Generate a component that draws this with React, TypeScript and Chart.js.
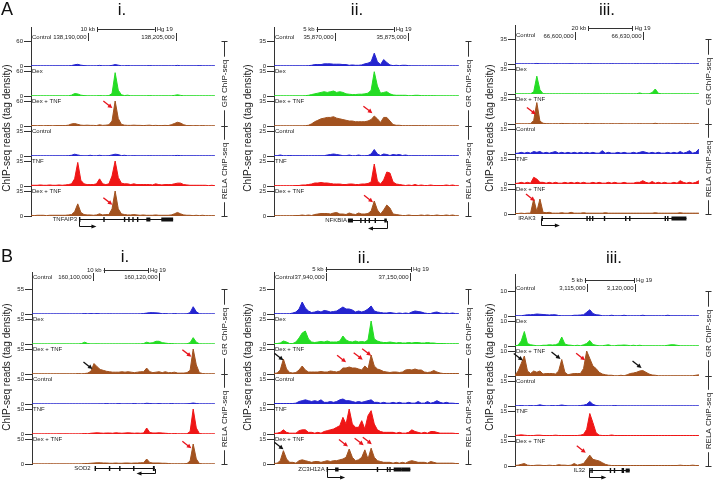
import React, { useEffect, useRef } from 'react';
import { Chart, registerables } from 'chart.js';

Chart.register(...registerables);

const FONT = 'Arial, "Liberation Sans", Helvetica, sans-serif';
Chart.defaults.font.family = FONT;

// ---------------- shared labels ----------------
const TRACK_NAMES = ['Control', 'Dex', 'Dex + TNF', 'Control', 'TNF', 'Dex + TNF'];
const GROUP_NAMES = ['GR ChIP-seq', 'RELA ChIP-seq'];
const Y_TITLE = 'ChIP-seq reads (tag density)';
const GENOME = 'Hg 19';

// ---------------- Panel A i : TNFAIP3 ----------------
const AI_TICKS = [60, 35];
const AI_GR_CONTROL = [
  0.5, 0.5, 0.5, 0.5, 0.5, 0.5, 0.5, 0.5, 0.5, 0.5,
  0.5, 0.5, 0.5, 1, 3, 4, 2, 1, 0.5, 0.5,
  0.5, 0.5, 1.5, 0.5, 0.5, 0.5, 1.5, 3.5, 2, 0.5,
  0.5, 1, 0.5, 0.5, 0.5, 0.5, 0.5, 0.5, 1, 0.5,
  0.5, 0.5, 0.5, 0.5, 0.5, 0.5, 0.5, 1.5, 0.5, 0.5,
  0.5, 0.5, 0.5, 0.5, 1, 0.5, 0.5, 0.5, 0.5, 0.5];
const AI_GR_DEX = [
  0.5, 0.5, 0.5, 0.5, 0.5, 0.5, 0.5, 0.5, 0.5, 0.5,
  0.5, 0.5, 0.5, 2, 6, 5, 2, 1, 0.5, 0.5,
  0.5, 0.5, 1, 0.5, 0.5, 1, 6, 56, 14, 3,
  1, 2, 0.5, 0.5, 0.5, 0.5, 0.5, 0.5, 1, 0.5,
  0.5, 0.5, 0.5, 0.5, 0.5, 0.5, 1.5, 3, 1.5, 0.5,
  0.5, 0.5, 0.5, 0.5, 0.5, 0.5, 0.5, 0.5, 0.5, 0.5];
const AI_GR_DEXTNF = [
  1, 1, 0.5, 1, 0.5, 1, 1, 0.5, 1, 1,
  1, 1, 2, 5, 6, 4, 2, 1.5, 2, 1.5,
  1.5, 1, 3, 1.5, 2, 3, 12, 60, 18, 4,
  2, 1.5, 1.5, 2, 1.5, 1.5, 1, 1.5, 2, 1,
  1.5, 1, 1, 1.5, 1, 3, 6, 9, 7, 3,
  1, 1, 0.5, 1, 0.5, 1, 0.5, 0.5, 0.5, 0.5];
const AI_RELA_CONTROL = [
  0.3, 0.3, 0.3, 0.3, 0.3, 0.3, 0.3, 0.3, 0.3, 0.3,
  0.3, 0.3, 0.5, 1, 2.5, 1.5, 0.5, 0.3, 0.3, 1,
  0.3, 0.3, 1, 0.3, 0.3, 0.5, 1.5, 2.5, 2, 0.5,
  1, 0.3, 0.3, 0.5, 0.3, 0.3, 0.3, 0.3, 0.5, 0.3,
  0.3, 0.3, 0.3, 0.3, 0.3, 0.3, 0.5, 0.8, 0.5, 0.3,
  0.3, 0.3, 0.3, 0.3, 0.3, 0.3, 0.3, 0.3, 0.3, 0.3];
const AI_RELA_TNF = [
  1, 1, 1, 1.5, 1, 1, 1.5, 1, 1, 1.5,
  1, 1.5, 2, 3, 10, 33, 8, 3, 2, 2,
  2, 3, 10, 3, 2, 3, 14, 35, 12, 4,
  3, 3, 2, 3, 2, 2, 2, 2, 2, 1.5,
  3, 2, 1.5, 2, 2, 2, 3, 4, 4, 2,
  1.5, 1, 1, 1, 1, 1, 1, 0.5, 1, 0.5];
const AI_RELA_DEXTNF = [
  1, 0.5, 1, 1, 1, 0.5, 1, 1, 1, 1,
  1, 1, 1.5, 2, 6, 17, 5, 2, 1.5, 1.5,
  1, 1.5, 3, 1.5, 2, 2, 10, 35, 10, 3,
  2, 1.5, 1.5, 2, 1.5, 1, 1.5, 1, 1, 1,
  1.5, 1, 1, 1, 1, 1.5, 3, 5, 3, 1.5,
  1, 1, 0.5, 1, 0.5, 1, 0.5, 0.5, 0.5, 0.5];
const AI_SCALE_LABEL = '10 kb';
const AI_SCALE_BINS = [21.2, 39.7];
const AI_COORD_LABELS = ['138,190,000', '138,205,000'];
const AI_COORD_BINS = [18.4, 46.4];
const AI_GENE = {
  name: 'TNFAIP3', from: 15.4, to: 45.6, strand: 1, tssTo: 21,
  exons: [[15.4, 15.7], [23.2, 23.5], [29.8, 30.1], [31.2, 31.5], [32.5, 32.8], [34.0, 34.3], [37.0, 38.3], [41.8, 45.6]],
};
const AI_ARROWS = [[2, 26.1, 43, 'red'], [5, 26.1, 15.8, 'red']];

// ---------------- Panel A ii : NFKBIA ----------------
const AII_TICKS = [35, 25];
const AII_GR_CONTROL = [
  0.3, 0.3, 0.3, 0.3, 0.3, 0.3, 0.3, 0.3, 0.3, 0.3,
  0.3, 0.5, 1, 2, 2, 2, 3, 3, 3, 2.5,
  2.5, 2.5, 2, 2, 1, 1.5, 1, 1, 1.5, 3,
  4, 6, 18, 6, 2, 9, 5, 1.5, 0.5, 1,
  0.5, 1, 1, 0.5, 0.3, 0.3, 0.3, 0.3, 0.3, 0.3,
  0.3, 0.3, 0.3, 0.3, 0.3, 0.3, 0.3, 0.3, 0.3, 0.3];
const AII_GR_DEX = [
  0.3, 0.3, 0.3, 0.3, 0.3, 0.3, 0.3, 0.3, 0.3, 0.3,
  0.5, 1, 2, 3, 4, 5, 6, 5, 6, 7,
  5, 6, 5, 3, 2.5, 2, 2, 2.5, 2.5, 3,
  4, 8, 34, 14, 4, 5, 6, 3, 1.5, 1,
  1, 1, 1, 0.5, 0.5, 1, 1, 0.5, 0.5, 0.5,
  0.5, 0.5, 0.3, 0.3, 0.3, 0.3, 0.3, 0.3, 0.3, 0.3];
const AII_GR_DEXTNF = [
  0.3, 0.3, 0.3, 0.3, 0.3, 0.3, 0.3, 0.3, 0.3, 0.3,
  0.5, 1, 3, 6, 8, 10, 11, 12, 12, 13,
  11, 10, 9, 8, 7, 7, 6, 6, 6, 6,
  7, 9, 14, 10, 5, 12, 12, 7, 2, 1,
  1, 0.5, 0.5, 0.5, 0.5, 0.5, 0.5, 0.5, 0.5, 0.5,
  0.3, 0.3, 0.3, 0.3, 0.3, 0.3, 0.3, 0.3, 0.3, 0.3];
const AII_RELA_CONTROL = [
  0.3, 0.3, 1, 0.3, 0.3, 0.5, 0.3, 0.3, 0.3, 0.3,
  0.3, 0.3, 0.3, 0.3, 0.3, 0.3, 0.3, 1, 1.5, 2,
  1.5, 1, 0.3, 0.3, 1, 0.3, 0.3, 1, 0.3, 0.3,
  0.5, 2, 6.5, 2, 0.5, 2, 1.5, 0.5, 1.5, 1,
  1.5, 0.5, 1, 0.3, 0.3, 0.3, 0.3, 0.3, 0.3, 0.3,
  0.3, 0.3, 0.3, 0.3, 0.3, 0.3, 0.3, 0.3, 0.3, 0.3];
const AII_RELA_TNF = [
  0.3, 0.3, 0.3, 0.3, 0.3, 0.3, 0.3, 0.5, 0.5, 1,
  1, 1.5, 2, 3, 3, 3.5, 3, 3, 2.5, 2,
  2, 2, 1.5, 1.5, 2, 2, 1.5, 1.5, 2, 2,
  2.5, 4, 22, 5, 2, 6, 14, 13, 4, 2,
  1.5, 1, 0.5, 1, 0.5, 1.5, 0.5, 1, 0.5, 0.5,
  1, 0.5, 0.5, 0.5, 0.5, 1, 0.5, 1, 0.3, 0.3];
const AII_RELA_DEXTNF = [
  0.3, 0.3, 0.3, 0.3, 0.3, 0.3, 0.3, 0.5, 0.5, 1,
  0.5, 1, 0.5, 1.5, 2, 2.5, 2.5, 2.5, 2, 3,
  3.5, 2, 2, 1.5, 3, 2, 1.5, 3, 2, 2,
  2.5, 5, 15, 6, 2, 6, 11, 8, 2, 1.5,
  1, 0.5, 0.5, 1, 0.5, 0.5, 0.5, 1, 0.5, 1,
  0.5, 0.5, 1, 0.5, 0.5, 1, 0.5, 1, 0.3, 0.3];
const AII_SCALE_LABEL = '5 kb';
const AII_SCALE_BINS = [13.6, 38.2];
const AII_COORD_LABELS = ['35,870,000', '35,875,000'];
const AII_COORD_BINS = [19.5, 42.8];
const AII_GENE = {
  name: 'NFKBIA', from: 23.6, to: 36.0, strand: -1, tssTo: 30.0,
  exons: [[23.6, 25.2], [27.5, 27.8], [28.9, 29.2], [30.2, 30.5], [32.1, 32.4], [35.2, 36.0]],
};
const AII_ARROWS = [[2, 31.4, 18, 'red'], [5, 31.6, 13.7, 'red']];

// ---------------- Panel A iii : IRAK3 ----------------
const AIII_TICKS = [35, 15];
const AIII_GR_CONTROL = [
  0.3, 0.3, 0.3, 0.3, 0.3, 0.3, 0.3, 0.8, 0.3, 0.3,
  0.3, 0.3, 0.3, 0.5, 0.3, 0.3, 0.3, 0.3, 0.5, 0.3,
  0.3, 0.3, 0.3, 0.3, 0.5, 0.3, 0.3, 0.3, 0.3, 0.3,
  0.3, 0.5, 0.3, 0.3, 0.3, 0.3, 0.3, 0.3, 0.3, 0.5,
  0.3, 0.3, 0.3, 0.3, 0.3, 0.5, 0.3, 0.3, 0.3, 0.3,
  0.3, 0.3, 0.5, 0.3, 0.3, 0.3, 0.3, 0.3, 0.3, 0.5];
const AIII_GR_DEX = [
  0.3, 0.3, 0.3, 0.3, 0.3, 0.3, 3, 25, 6, 0.5,
  0.3, 0.3, 0.3, 0.3, 0.3, 0.3, 0.3, 0.3, 0.3, 0.3,
  0.3, 0.3, 0.3, 0.3, 0.3, 0.3, 0.3, 0.3, 0.3, 0.3,
  0.3, 0.3, 0.3, 0.3, 0.3, 0.3, 0.3, 0.3, 0.3, 0.3,
  1.5, 0.3, 0.3, 0.3, 2, 7, 1, 0.3, 0.3, 0.3,
  0.3, 0.3, 0.3, 0.3, 0.3, 0.3, 0.3, 0.3, 0.3, 0.3];
const AIII_GR_DEXTNF = [
  0.3, 0.3, 0.3, 0.3, 0.3, 0.5, 5, 30, 4, 1,
  0.5, 0.5, 0.3, 0.5, 0.3, 0.8, 0.5, 0.5, 0.3, 0.5,
  0.3, 0.5, 0.3, 0.8, 0.3, 0.5, 0.3, 0.3, 0.5, 0.3,
  0.3, 0.5, 0.3, 0.3, 0.5, 0.3, 0.3, 0.3, 0.3, 0.3,
  0.5, 0.3, 0.3, 0.3, 0.3, 1, 0.3, 0.3, 0.3, 0.3,
  0.3, 0.3, 0.3, 0.3, 0.3, 0.5, 0.3, 0.3, 0.3, 0.3];
const AIII_RELA_CONTROL = [
  0.3, 0.5, 1, 0.5, 1, 0.5, 1.5, 1, 1.5, 0.5,
  1, 0.5, 1, 1.5, 0.5, 1, 0.5, 1, 0.5, 1,
  0.5, 1, 0.5, 1, 0.5, 1, 0.5, 0.5, 2, 0.5,
  1, 0.5, 0.5, 1, 0.5, 1, 0.5, 0.5, 1, 0.5,
  1, 1.5, 1, 0.5, 1, 0.5, 1, 0.5, 0.5, 1,
  0.5, 1, 0.5, 1.5, 0.5, 1, 2, 0.5, 1, 3];
const AIII_RELA_TNF = [
  0.3, 0.5, 1, 0.5, 1, 0.5, 4, 3, 1, 1,
  0.5, 1, 0.5, 1, 0.5, 0.5, 1, 0.5, 1, 0.5,
  1, 0.5, 1, 0.5, 0.5, 1, 0.5, 1, 0.5, 0.5,
  1, 0.5, 1, 0.5, 0.5, 1, 0.5, 0.5, 0.5, 1,
  1, 2, 1, 0.5, 1.5, 0.5, 1, 0.5, 1, 0.5,
  0.5, 1, 0.5, 2, 1, 0.5, 1, 0.5, 1, 2];
const AIII_RELA_DEXTNF = [
  0.3, 0.3, 0.5, 0.3, 0.5, 0.5, 9, 1.5, 9, 1,
  0.8, 1, 0.5, 0.5, 0.5, 0.8, 0.5, 0.5, 1, 0.5,
  0.5, 0.5, 0.8, 0.5, 0.5, 0.5, 0.5, 0.5, 0.5, 0.8,
  0.5, 0.5, 0.5, 0.5, 0.5, 0.5, 0.5, 0.5, 0.5, 0.5,
  0.5, 0.5, 0.5, 0.5, 0.5, 0.8, 0.5, 0.5, 0.5, 0.5,
  0.5, 0.5, 0.5, 0.8, 0.5, 0.5, 0.5, 0.5, 0.5, 0.5];
const AIII_SCALE_LABEL = '20 kb';
const AIII_SCALE_BINS = [23.5, 37.7];
const AIII_COORD_LABELS = ['66,600,000', '66,630,000'];
const AIII_COORD_BINS = [19.2, 41.1];
const AIII_GENE = {
  name: 'IRAK3', from: 8.5, to: 55.0, strand: 1, tssTo: 14.4,
  exons: [[8.5, 8.8], [22.9, 23.1], [23.8, 24.0], [24.7, 24.9], [28.5, 28.7], [35.3, 35.5], [36.6, 36.8], [48.0, 48.2], [48.8, 49.0], [50.2, 55.0]],
};
const AIII_ARROWS = [[2, 6.7, 13.4, 'red'], [5, 6.4, 7.8, 'red']];

// ---------------- Panel B i : SOD2 ----------------
const BI_TICKS = [55, 50];
const BI_GR_CONTROL = [
  0.3, 0.3, 0.3, 0.3, 0.3, 0.3, 0.3, 0.3, 0.3, 0.3,
  0.3, 0.3, 0.3, 0.3, 0.3, 0.3, 0.3, 1, 0.3, 1,
  0.3, 1, 0.3, 0.3, 0.3, 0.5, 0.3, 0.3, 0.3, 0.3,
  0.3, 0.3, 0.3, 0.3, 0.3, 0.5, 1, 2, 3, 3,
  2.5, 2, 0.5, 1, 0.3, 0.3, 1, 0.3, 0.3, 0.3,
  0.5, 3, 16, 5, 0.5, 0.3, 0.3, 0.3, 0.3, 0.3];
const BI_GR_DEX = [
  0.3, 0.3, 0.3, 0.3, 0.3, 0.3, 0.3, 0.3, 0.3, 0.3,
  0.3, 0.3, 0.3, 0.3, 0.3, 0.3, 1, 4, 1, 0.3,
  0.3, 0.5, 0.3, 0.3, 0.3, 0.3, 0.3, 0.3, 0.3, 0.3,
  0.3, 0.3, 0.3, 0.3, 0.5, 0.3, 1, 4, 2, 3,
  6, 6, 3, 2, 1, 1, 0.5, 0.3, 0.3, 0.3,
  0.5, 3, 14, 4, 0.5, 0.3, 0.3, 0.3, 0.3, 0.3];
const BI_GR_DEXTNF = [
  0.5, 0.5, 0.5, 0.5, 0.5, 0.5, 0.5, 0.5, 0.5, 0.5,
  0.5, 0.5, 0.5, 0.5, 0.5, 1, 0.5, 1, 2, 6,
  23, 16, 10, 8, 6, 5, 4, 4, 4, 5,
  4, 5, 4, 3, 4, 5, 5, 13, 5, 3,
  4, 5, 3, 5, 3, 3, 4, 2, 2, 2,
  3, 8, 55, 20, 3, 1, 0.5, 0.5, 0.5, 0.5];
const BI_RELA_CONTROL = [
  0.3, 0.3, 0.3, 0.3, 0.3, 0.3, 0.3, 0.3, 0.3, 0.3,
  0.3, 0.3, 0.3, 0.3, 0.3, 0.3, 0.3, 0.3, 0.3, 0.3,
  0.3, 0.3, 0.5, 0.3, 1, 0.3, 0.5, 0.3, 1, 0.3,
  0.3, 0.5, 0.3, 1, 0.3, 0.3, 0.5, 1.5, 1, 0.5,
  0.3, 1, 0.3, 0.5, 0.3, 1, 0.3, 0.5, 0.3, 0.3,
  0.5, 1, 2, 1, 0.3, 0.3, 0.3, 0.3, 0.3, 0.3];
const BI_RELA_TNF = [
  0.3, 0.3, 0.3, 0.3, 0.3, 0.5, 0.3, 0.3, 0.3, 0.5,
  0.3, 0.5, 0.3, 0.3, 0.3, 0.3, 0.5, 1, 0.5, 1.5,
  2, 2.5, 2, 1.5, 2, 2, 1.5, 2.5, 2, 1.5,
  2, 2.5, 2, 1.5, 2, 1.5, 2, 12, 3, 2,
  2, 2.5, 2, 1.5, 1, 0.5, 1, 0.5, 0.5, 0.5,
  0.5, 5, 50, 12, 1, 0.3, 0.3, 0.3, 0.3, 0.3];
const BI_RELA_DEXTNF = [
  0.3, 0.3, 0.3, 0.3, 0.3, 0.3, 0.5, 0.3, 0.3, 0.3,
  0.3, 0.3, 0.3, 0.3, 0.3, 0.3, 0.3, 1, 1, 1.5,
  2, 2.5, 2.5, 2, 2, 1.5, 1.5, 2, 1.5, 1.5,
  2, 2, 1.5, 2, 2, 2.5, 2.5, 10, 3, 2,
  2, 2, 1.5, 1.5, 1, 0.5, 0.5, 0.5, 0.5, 0.5,
  1, 6, 40, 10, 1, 0.3, 0.3, 0.3, 0.3, 0.3];
const BI_SCALE_LABEL = '10 kb';
const BI_SCALE_BINS = [23.1, 37.4];
const BI_COORD_LABELS = ['160,100,000', '160,120,000'];
const BI_COORD_BINS = [19.7, 41.0];
const BI_GENE = {
  name: 'SOD2', from: 20.2, to: 39.6, strand: -1, tssTo: 33.7,
  exons: [[20.2, 20.5], [24.8, 25.1], [28.1, 28.4], [32.6, 32.9], [39.0, 39.6]],
};
const BI_ARROWS = [[2, 19.5, 11, 'black'], [2, 51.4, 38, 'red'], [5, 51.4, 31.5, 'red']];

// ---------------- Panel B ii : ZC3H12A ----------------
const BII_TICKS = [25, 15];
const BII_GR_CONTROL = [
  0.3, 0.3, 0.3, 0.3, 0.3, 0.3, 1, 2, 5, 12,
  6, 3, 1.5, 2, 3, 2, 3.5, 3, 2, 2.5,
  3, 5, 7, 5, 5, 4, 2, 3, 2, 3,
  5, 8, 3, 2, 1.5, 1, 1, 1.5, 1, 0.5,
  1, 0.5, 1, 0.5, 2, 3, 2.5, 2, 1, 0.5,
  0.5, 1.5, 2, 1, 0.5, 1, 0.5, 1, 0.3, 0.3];
const BII_GR_DEX = [
  0.3, 0.5, 1, 3, 2, 0.5, 0.5, 2, 6, 11,
  13, 5, 2, 1.5, 2, 2.5, 2, 3, 2, 2,
  2, 3, 8, 4, 2.5, 2, 3, 2, 2.5, 2,
  4, 23, 5, 3, 2, 1.5, 1.5, 2, 1.5, 1,
  1.5, 1, 1, 1.5, 1, 1.5, 1.5, 1, 1, 1.5,
  1, 1, 0.5, 0.5, 0.5, 0.3, 0.3, 0.3, 0.3, 0.3];
const BII_GR_DEXTNF = [
  0.5, 1, 4, 15, 5, 1.5, 1, 1.5, 4, 8,
  4, 2, 2, 2, 2, 2.5, 2, 2, 3, 2.5,
  2, 3, 6, 6, 7, 6, 6, 5, 4, 8,
  5, 19, 8, 5, 4, 2.5, 2, 1.5, 2, 2,
  1.5, 2, 4, 4.5, 4, 5, 4, 4, 2, 1.5,
  2, 3.5, 2, 1, 0.5, 0.5, 0.5, 0.5, 0.5, 0.5];
const BII_RELA_CONTROL = [
  0.3, 0.3, 0.3, 0.3, 0.3, 0.3, 0.3, 0.5, 1.5, 2,
  2.5, 2, 1.5, 2, 1.5, 2.5, 1, 1, 1.5, 1,
  1.5, 2.5, 3, 2, 2, 1.5, 1, 1.5, 1, 1.5,
  2, 2.5, 1, 1, 0.5, 1, 0.5, 0.5, 1, 0.5,
  1, 0.5, 0.5, 1, 0.5, 0.5, 1.5, 0.5, 0.5, 1.5,
  0.5, 1, 2, 1, 0.5, 1, 0.5, 0.5, 0.3, 0.3];
const BII_RELA_TNF = [
  0.3, 0.5, 1, 2.5, 1, 0.5, 0.5, 0.5, 2, 2.5,
  2.5, 1, 1, 0.5, 1, 0.5, 1.5, 2, 2.5, 3,
  4, 5, 10, 6, 15, 6, 4, 4, 8, 3,
  11, 14, 6, 2.5, 1.5, 1, 1, 1, 1, 0.5,
  1, 0.5, 0.5, 1, 2.5, 1.5, 1, 0.5, 1, 0.5,
  1.5, 1.5, 1, 0.5, 0.5, 0.5, 0.5, 0.5, 0.3, 0.3];
const BII_RELA_DEXTNF = [
  0.3, 0.5, 2, 8, 3, 1, 1, 0.5, 2, 2.5,
  2, 1.5, 1, 1.5, 1.5, 1, 1.5, 2, 1.5, 2,
  2, 2.5, 3, 4, 9, 4, 2, 2.5, 4, 8.5,
  3, 9.5, 4, 2, 1.5, 1, 1, 1, 0.5, 1,
  0.5, 1, 0.5, 1.5, 2, 1.5, 1, 1, 1, 0.5,
  1.5, 1, 0.5, 0.5, 0.5, 0.5, 0.5, 0.5, 0.3, 0.3];
const BII_SCALE_LABEL = '5 kb';
const BII_SCALE_BINS = [16.5, 43.7];
const BII_COORD_LABELS = ['37,940,000', '37,150,000'];
const BII_COORD_BINS = [16.5, 43.3];
const BII_GENE = {
  name: 'ZC3H12A', from: 16.8, to: 43.5, strand: 1, tssTo: 22.7,
  exons: [[16.8, 17.0], [19.5, 20.6], [32.8, 33.1], [36.0, 36.3], [36.8, 37.1], [38.2, 40.8], [40.8, 43.5]],
};
const BII_ARROWS = [
  [2, 3.0, 13.7, 'black'], [2, 23, 11.7, 'red'], [2, 28.3, 14.3, 'red'], [2, 31, 18.3, 'red'],
  [5, 3.0, 8.8, 'black'], [5, 23.6, 10.5, 'red'], [5, 28.6, 11.3, 'red'], [5, 31.2, 11.9, 'red']];

// ---------------- Panel B iii : IL32 ----------------
const BIII_TICKS = [10, 15];
const BIII_GR_CONTROL = [
  0.1, 0.1, 0.1, 0.3, 0.5, 0.5, 0.6, 0.8, 0.7, 0.6,
  0.5, 0.4, 0.5, 0.5, 0.2, 0.1, 0.1, 0.1, 0.1, 0.3,
  0.3, 0.4, 0.5, 1.5, 2.5, 1, 0.5, 0.4, 0.1, 0.1,
  0.1, 0.3, 0.1, 0.1, 0.1, 0.3, 0.1, 0.1, 0.1, 0.1,
  0.1, 0.3, 0.1, 0.1, 0.1, 0.1, 0.1, 0.1, 0.1, 0.3,
  0.1, 0.1, 0.1, 0.1, 0.1, 0.1, 0.1, 0.1, 0.1, 0.1];
const BIII_GR_DEX = [
  0.1, 0.3, 2, 5.8, 1, 0.5, 0.3, 0.1, 0.1, 0.3,
  0.3, 0.5, 0.4, 0.5, 1, 3.6, 0.8, 0.4, 0.3, 0.1,
  0.3, 0.1, 0.5, 1, 2.2, 0.6, 0.3, 0.1, 0.1, 0.3,
  0.5, 0.1, 0.1, 0.3, 0.3, 0.4, 0.3, 0.1, 0.3, 0.1,
  0.3, 0.1, 0.1, 0.1, 0.1, 0.1, 0.1, 0.1, 0.1, 0.3,
  0.5, 0.5, 0.3, 0.1, 0.1, 0.1, 0.1, 0.1, 0.1, 0.1];
const BIII_GR_DEXTNF = [
  0.3, 2, 5, 8, 2, 1, 2, 1.5, 2, 0.8,
  1, 1, 1, 0.8, 2, 6.6, 1.5, 0.5, 0.8, 1,
  1, 1, 3, 10, 7, 4, 3, 1.5, 0.8, 0.5,
  0.3, 0.3, 0.1, 0.1, 0.3, 0.1, 0.5, 1, 1.2, 1.5,
  2, 2.2, 1.5, 0.8, 0.4, 0.3, 0.1, 0.1, 0.1, 0.1,
  0.1, 0.1, 0.1, 0.1, 0.1, 0.1, 0.1, 0.1, 0.3, 0.5];
const BIII_RELA_CONTROL = [
  0.1, 0.1, 0.3, 0.1, 0.1, 0.3, 0.1, 0.3, 0.7, 0.3,
  0.1, 0.1, 0.3, 0.1, 0.3, 0.6, 0.3, 0.1, 0.1, 0.1,
  0.1, 0.3, 0.5, 1, 2.7, 1, 0.3, 0.1, 0.1, 0.1,
  0.1, 0.1, 0.3, 0.1, 0.1, 0.1, 0.1, 0.1, 0.1, 0.1,
  0.1, 0.1, 0.1, 0.1, 0.1, 0.1, 0.1, 0.1, 0.1, 0.1,
  0.1, 0.1, 0.1, 0.1, 0.1, 0.1, 0.1, 0.1, 0.1, 0.1];
const BIII_RELA_TNF = [
  0.3, 0.5, 0.7, 0.5, 0.3, 0.3, 0.3, 0.5, 0.5, 0.3,
  0.3, 0.3, 0.3, 0.5, 0.3, 0.3, 0.3, 0.3, 0.3, 0.3,
  0.3, 0.5, 1, 4, 13.5, 8, 2, 0.5, 0.3, 0.3,
  0.3, 0.6, 0.3, 0.3, 0.3, 0.3, 0.3, 0.3, 0.3, 0.3,
  0.3, 0.3, 0.3, 0.3, 0.3, 0.3, 0.3, 0.3, 0.3, 0.3,
  0.3, 0.3, 0.3, 0.3, 0.3, 0.3, 0.3, 0.3, 0.3, 0.3];
const BIII_RELA_DEXTNF = [
  0.3, 0.5, 1, 1.5, 0.5, 0.3, 0.3, 0.5, 0.5, 0.3,
  0.3, 0.5, 0.3, 0.3, 0.8, 0.5, 0.5, 0.3, 0.5, 1.5,
  0.5, 1, 1.5, 4, 6.5, 4, 3.5, 3, 2, 1,
  0.5, 0.3, 0.3, 0.3, 0.3, 0.3, 0.3, 0.3, 0.3, 0.3,
  0.3, 0.3, 0.3, 0.3, 0.3, 0.3, 0.3, 0.3, 0.3, 0.3,
  0.3, 0.3, 0.3, 0.5, 0.3, 0.3, 0.3, 0.5, 0.3, 0.3];
const BIII_SCALE_LABEL = '5 kb';
const BIII_SCALE_BINS = [22.4, 38.2];
const BIII_COORD_LABELS = ['3,115,000', '3,120,000'];
const BIII_COORD_BINS = [23.2, 38.4];
const BIII_GENE = {
  name: 'IL32', from: 23.8, to: 36.8, strand: 1, tssTo: 29.3,
  exons: [[23.8, 24.0], [24.5, 24.7], [30.4, 30.7], [31.7, 32.0], [34.2, 35.0], [35.5, 36.8]],
};
const BIII_ARROWS = [[2, 2.5, 6.2, 'black'], [2, 14.6, 6.8, 'black'], [2, 22.5, 6.3, 'red'], [2, 40.6, 3.2, 'black'], [5, 22.7, 7.9, 'red']];

// ---------------- styling ----------------
const TRACK_COLORS = ['#2424cf', '#24dc24', '#a2521f', '#2424cf', '#ef1616', '#a2521f'];
const ARROW_COLORS: Record<string, string> = { red: '#e8141c', black: '#111111' };
const INK = '#222222';

type Gene = { name: string; from: number; to: number; strand: number; tssTo: number; exons: number[][] };
type Panel = {
  key: string; left: number; top: number; width: number; height: number;
  axisX: number; rightX: number; chartTop: number; firstH: number;
  barY: number; coordY: number; label1Y: number; geneY: number; tssY: number; labelGap: number;
  titleX: number; titleY: number;
  ticks: number[]; tracks: number[][]; scaleLabel: string; scaleBins: number[];
  coordLabels: string[]; coordBins: number[]; gene: Gene; arrows: any[];
};

const PANELS: Panel[] = [
  { key: 'AI', left: 0, top: 0, width: 236, height: 240, axisX: 31, rightX: 218, chartTop: 27, firstH: 39,
    barY: 29, coordY: 37, label1Y: 37, geneY: 219, tssY: 226, labelGap: 2, titleX: 7, titleY: 128,
    ticks: AI_TICKS, tracks: [AI_GR_CONTROL, AI_GR_DEX, AI_GR_DEXTNF, AI_RELA_CONTROL, AI_RELA_TNF, AI_RELA_DEXTNF],
    scaleLabel: AI_SCALE_LABEL, scaleBins: AI_SCALE_BINS, coordLabels: AI_COORD_LABELS, coordBins: AI_COORD_BINS,
    gene: AI_GENE, arrows: AI_ARROWS },
  { key: 'AII', left: 235, top: 0, width: 240, height: 240, axisX: 39, rightX: 227, chartTop: 27, firstH: 39,
    barY: 29, coordY: 37, label1Y: 37, geneY: 220, tssY: 228, labelGap: 1, titleX: 13, titleY: 128,
    ticks: AII_TICKS, tracks: [AII_GR_CONTROL, AII_GR_DEX, AII_GR_DEXTNF, AII_RELA_CONTROL, AII_RELA_TNF, AII_RELA_DEXTNF],
    scaleLabel: AII_SCALE_LABEL, scaleBins: AII_SCALE_BINS, coordLabels: AII_COORD_LABELS, coordBins: AII_COORD_BINS,
    gene: AII_GENE, arrows: AII_ARROWS },
  { key: 'AIII', left: 470, top: 0, width: 243, height: 240, axisX: 45, rightX: 232, chartTop: 25, firstH: 39,
    barY: 28, coordY: 36, label1Y: 35, geneY: 218, tssY: 225, labelGap: 6, titleX: 20, titleY: 128,
    ticks: AIII_TICKS, tracks: [AIII_GR_CONTROL, AIII_GR_DEX, AIII_GR_DEXTNF, AIII_RELA_CONTROL, AIII_RELA_TNF, AIII_RELA_DEXTNF],
    scaleLabel: AIII_SCALE_LABEL, scaleBins: AIII_SCALE_BINS, coordLabels: AIII_COORD_LABELS, coordBins: AIII_COORD_BINS,
    gene: AIII_GENE, arrows: AIII_ARROWS },
  { key: 'BI', left: 0, top: 240, width: 236, height: 240, axisX: 32, rightX: 218, chartTop: 32, firstH: 42,
    barY: 30, coordY: 37, label1Y: 37, geneY: 228, tssY: 233, labelGap: 4, titleX: 7, titleY: 127,
    ticks: BI_TICKS, tracks: [BI_GR_CONTROL, BI_GR_DEX, BI_GR_DEXTNF, BI_RELA_CONTROL, BI_RELA_TNF, BI_RELA_DEXTNF],
    scaleLabel: BI_SCALE_LABEL, scaleBins: BI_SCALE_BINS, coordLabels: BI_COORD_LABELS, coordBins: BI_COORD_BINS,
    gene: BI_GENE, arrows: BI_ARROWS },
  { key: 'BII', left: 235, top: 240, width: 240, height: 240, axisX: 39, rightX: 227, chartTop: 32, firstH: 42,
    barY: 29, coordY: 37, label1Y: 37, geneY: 229, tssY: 237, labelGap: 2, titleX: 13, titleY: 127,
    ticks: BII_TICKS, tracks: [BII_GR_CONTROL, BII_GR_DEX, BII_GR_DEXTNF, BII_RELA_CONTROL, BII_RELA_TNF, BII_RELA_DEXTNF],
    scaleLabel: BII_SCALE_LABEL, scaleBins: BII_SCALE_BINS, coordLabels: BII_COORD_LABELS, coordBins: BII_COORD_BINS,
    gene: BII_GENE, arrows: BII_ARROWS },
  { key: 'BIII', left: 470, top: 240, width: 243, height: 240, axisX: 45, rightX: 232, chartTop: 34, firstH: 42,
    barY: 40, coordY: 48, label1Y: 48, geneY: 230, tssY: 237, labelGap: 4, titleX: 20, titleY: 127,
    ticks: BIII_TICKS, tracks: [BIII_GR_CONTROL, BIII_GR_DEX, BIII_GR_DEXTNF, BIII_RELA_CONTROL, BIII_RELA_TNF, BIII_RELA_DEXTNF],
    scaleLabel: BIII_SCALE_LABEL, scaleBins: BIII_SCALE_BINS, coordLabels: BIII_COORD_LABELS, coordBins: BIII_COORD_BINS,
    gene: BIII_GENE, arrows: BIII_ARROWS },
];

const HEADINGS = [
  { text: 'A', x: 1, baseline: 15, size: 18, align: 'left' },
  { text: 'i.', x: 122, baseline: 15, size: 17, align: 'center' },
  { text: 'ii.', x: 357, baseline: 15, size: 17, align: 'center' },
  { text: 'iii.', x: 607, baseline: 15, size: 17, align: 'center' },
  { text: 'B', x: 1, baseline: 262, size: 18, align: 'left' },
  { text: 'i.', x: 125, baseline: 262, size: 17, align: 'center' },
  { text: 'ii.', x: 364, baseline: 263, size: 17, align: 'center' },
  { text: 'iii.', x: 614, baseline: 263, size: 17, align: 'center' },
];

function trackMax(p: Panel, k: number) {
  return k < 3 ? p.ticks[0] : p.ticks[1];
}
function trackHeight(p: Panel, k: number) {
  return k === 0 ? p.firstH : 30;
}

function drawHead(ctx: CanvasRenderingContext2D, tx: number, ty: number, ux: number, uy: number, len: number, half: number) {
  ctx.beginPath();
  ctx.moveTo(tx, ty);
  ctx.lineTo(tx - ux * len - uy * half, ty - uy * len + ux * half);
  ctx.lineTo(tx - ux * len + uy * half, ty - uy * len - ux * half);
  ctx.closePath();
  ctx.fill();
}

function makeOverlay(p: Panel) {
  return {
    id: 'overlay' + p.key,
    afterDatasetsDraw(chart: any) {
      const ctx: CanvasRenderingContext2D = chart.ctx;
      const xs = chart.scales.x;
      const X = (b: number) => xs.getPixelForValue(b);
      const ys = p.tracks.map((_, k) => chart.scales['y' + k]);
      const area = chart.chartArea;
      ctx.save();

      // track names
      ctx.fillStyle = INK;
      ctx.font = `6px ${FONT}`;
      ctx.textAlign = 'left';
      ctx.textBaseline = 'middle';
      TRACK_NAMES.forEach((name, k) => {
        const y = k === 0 ? p.label1Y : ys[k].getPixelForValue(trackMax(p, k));
        ctx.fillText(name, area.left + 1, y);
      });

      // scale bar
      ctx.strokeStyle = '#333';
      ctx.lineWidth = 1;
      const b0 = X(p.scaleBins[0]);
      const b1 = X(p.scaleBins[1]);
      ctx.beginPath();
      ctx.moveTo(b0, p.barY + 0.5); ctx.lineTo(b1, p.barY + 0.5);
      ctx.moveTo(Math.round(b0) + 0.5, p.barY - 2); ctx.lineTo(Math.round(b0) + 0.5, p.barY + 3);
      ctx.moveTo(Math.round(b1) + 0.5, p.barY - 2); ctx.lineTo(Math.round(b1) + 0.5, p.barY + 3);
      ctx.stroke();
      ctx.textAlign = 'right';
      ctx.fillText(p.scaleLabel, b0 - 2, p.barY + 0.5);
      ctx.textAlign = 'left';
      ctx.fillText(GENOME, b1 + 2, p.barY + 0.5);

      // coordinates
      p.coordLabels.forEach((lab, i) => {
        const cx = Math.round(X(p.coordBins[i])) + 0.5;
        ctx.beginPath();
        ctx.moveTo(cx, p.coordY - 4); ctx.lineTo(cx, p.coordY + 4);
        ctx.stroke();
        ctx.textAlign = 'right';
        ctx.fillText(lab, cx - 2, p.coordY);
      });

      // peak arrows
      const L = Math.hypot(9, 7);
      const ux = 9 / L, uy = 7 / L;
      p.arrows.forEach(([k, bin, val, kind]) => {
        const tx = X(bin);
        const ty = ys[k].getPixelForValue(val);
        const col = ARROW_COLORS[kind];
        ctx.strokeStyle = col;
        ctx.fillStyle = col;
        ctx.lineWidth = 1.3;
        ctx.beginPath();
        ctx.moveTo(tx - 9, ty - 7);
        ctx.lineTo(tx - ux * 3, ty - uy * 3);
        ctx.stroke();
        drawHead(ctx, tx, ty, ux, uy, 4.5, 2.3);
      });

      // gene model
      const g = p.gene;
      const gy = p.geneY;
      ctx.strokeStyle = '#111';
      ctx.fillStyle = '#111';
      ctx.lineWidth = 1;
      ctx.beginPath();
      ctx.moveTo(X(g.from), gy + 0.5); ctx.lineTo(X(g.to), gy + 0.5);
      ctx.stroke();
      g.exons.forEach(([a, b]) => {
        const xa = X(a), xb = X(b);
        const w = Math.max(1.4, xb - xa);
        const h = xb - xa > 2.5 ? 4 : 5;
        ctx.fillRect(xa, gy + 0.5 - h / 2, w, h);
      });
      const tssX = Math.round(g.strand > 0 ? X(g.from) : X(g.to)) + 0.5;
      const endX = X(g.tssTo);
      ctx.beginPath();
      ctx.moveTo(tssX, gy + 1); ctx.lineTo(tssX, p.tssY + 0.5); ctx.lineTo(endX - g.strand * 3, p.tssY + 0.5);
      ctx.stroke();
      drawHead(ctx, endX, p.tssY + 0.5, g.strand, 0, 5, 2);
      ctx.fillStyle = INK;
      ctx.textAlign = 'right';
      ctx.fillText(g.name, X(g.from) - p.labelGap, gy + 0.5);

      // right brackets
      const bx = Math.round(area.right + 6) + 0.5;
      const spans = [
        [ys[0].getPixelForValue(trackMax(p, 0)), ys[2].getPixelForValue(0)],
        [ys[2].getPixelForValue(0), ys[5].getPixelForValue(0)],
      ];
      ctx.font = `8px ${FONT}`;
      ctx.strokeStyle = '#333';
      spans.forEach(([t, b], i) => {
        const mid = (t + b) / 2;
        const tw = ctx.measureText(GROUP_NAMES[i]).width;
        ctx.beginPath();
        ctx.moveTo(bx, t); ctx.lineTo(bx, mid - tw / 2 - 3);
        ctx.moveTo(bx, mid + tw / 2 + 3); ctx.lineTo(bx, b);
        ctx.moveTo(bx - 3, Math.round(t) + 0.5); ctx.lineTo(bx + 3, Math.round(t) + 0.5);
        ctx.moveTo(bx - 3, Math.round(b) + 0.5); ctx.lineTo(bx + 3, Math.round(b) + 0.5);
        ctx.stroke();
        ctx.save();
        ctx.translate(bx, mid);
        ctx.rotate(-Math.PI / 2);
        ctx.textAlign = 'center';
        ctx.textBaseline = 'middle';
        ctx.fillStyle = INK;
        ctx.fillText(GROUP_NAMES[i], 0, 0);
        ctx.restore();
      });

      // y title
      ctx.save();
      ctx.translate(p.titleX, p.titleY);
      ctx.rotate(-Math.PI / 2);
      ctx.font = `10px ${FONT}`;
      ctx.textAlign = 'center';
      ctx.textBaseline = 'middle';
      ctx.fillStyle = INK;
      ctx.fillText(Y_TITLE, 0, 0);
      ctx.restore();

      ctx.restore();
    },
  };
}

function buildConfig(p: Panel): any {
  const scales: any = {
    x: { type: 'linear', min: 0, max: 60, display: false },
  };
  p.tracks.forEach((_, k) => {
    const tmax = trackMax(p, k);
    const h = trackHeight(p, k);
    scales['y' + k] = {
      type: 'linear',
      position: 'left',
      stack: 'tracks',
      stackWeight: h,
      weight: 10 - k,
      min: 0,
      max: (tmax * h) / 25,
      afterBuildTicks: (s: any) => { s.ticks = [{ value: 0 }, { value: tmax }]; },
      afterFit: (s: any) => { s.width = p.axisX; },
      border: { display: true, color: '#333', width: 1 },
      grid: { drawOnChartArea: false, drawTicks: true, tickLength: 7, color: '#333', lineWidth: 1 },
      ticks: { font: { size: 6, family: FONT }, color: INK, padding: 1, autoSkip: false, maxRotation: 0,
        callback: (v: any) => String(v) },
    };
  });
  return {
    type: 'line',
    data: {
      datasets: p.tracks.map((vals, k) => ({
        label: TRACK_NAMES[k],
        data: vals.map((v, i) => ({ x: i, y: v })),
        xAxisID: 'x',
        yAxisID: 'y' + k,
        borderColor: TRACK_COLORS[k],
        backgroundColor: TRACK_COLORS[k],
        borderWidth: 1,
        pointRadius: 0,
        tension: 0,
        fill: 'origin',
      })),
    },
    options: {
      responsive: false,
      animation: false,
      events: [],
      layout: {
        padding: {
          left: 0,
          top: p.chartTop,
          right: p.width - p.rightX,
          bottom: p.height - (p.chartTop + p.firstH + 150),
        },
      },
      plugins: { legend: { display: false }, tooltip: { enabled: false }, title: { display: false } },
      scales,
    },
    plugins: [makeOverlay(p)],
  };
}

function TrackPanel({ panel }: { panel: Panel }) {
  const ref = useRef<HTMLCanvasElement>(null);
  useEffect(() => {
    if (!ref.current) return;
    const chart = new Chart(ref.current, buildConfig(panel));
    return () => chart.destroy();
  }, [panel]);
  return (
    <canvas
      ref={ref}
      width={panel.width}
      height={panel.height}
      style={{ position: 'absolute', left: panel.left, top: panel.top, width: panel.width, height: panel.height }}
    />
  );
}

export default function App() {
  return (
    <div style={{ position: 'fixed', left: 0, top: 0, width: 713, height: 480, background: '#ffffff', overflow: 'hidden', fontFamily: FONT }}>
      {PANELS.map((p) => <TrackPanel key={p.key} panel={p} />)}
      {HEADINGS.map((h, i) => (
        <div
          key={i}
          style={{
            position: 'absolute',
            left: h.align === 'center' ? h.x - 30 : h.x,
            width: h.align === 'center' ? 60 : 'auto',
            textAlign: h.align as any,
            top: h.baseline - 0.8465 * h.size,
            fontSize: h.size,
            lineHeight: `${h.size}px`,
            color: '#111',
            fontFamily: FONT,
          }}
        >
          {h.text}
        </div>
      ))}
    </div>
  );
}
